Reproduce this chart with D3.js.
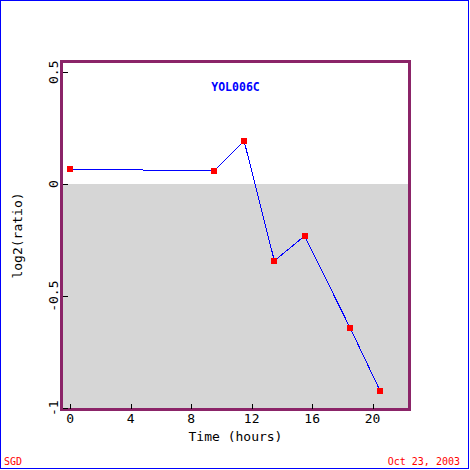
<!DOCTYPE html>
<html>
<head>
<meta charset="utf-8">
<script src="https://cdn.jsdelivr.net/npm/d3@7"></script>
<style>
    body { margin: 0; background: #fff; }
    text { font-family: "DejaVu Sans Mono", "Liberation Mono", monospace; -webkit-font-smoothing: none; }
</style>
</head>
<body>
<div id="chart"></div>
<script>
var geneName = "YOL006C";
var times = [0, 9.5, 11.5, 13.5, 15.5, 18.5, 20.5];
var values = [0.068, 0.059, 0.193, -0.342, -0.231, -0.64, -0.923];
var xTicks = [0, 4, 8, 12, 16, 20];
var yTicks = [0.5, 0, -0.5, -1];
var xLabel = "Time (hours)";
var yLabel = "log2(ratio)";
var leftNote = "SGD";
var rightNote = "Oct 23, 2003";

var width = 470,
    height = 470;
var box = { left: 61.5, top: 61.5, right: 409.5, bottom: 409.5 };

var svg = d3.select("#chart").append("svg")
    .attr("width", width)
    .attr("height", height)

// outer frame
svg.append("rect")
    .attr("x", 0.5).attr("y", 0.5)
    .attr("width", 468).attr("height", 468)
    .attr("fill", "none")
    .attr("stroke", "#0000ff")
    .attr("shape-rendering", "crispEdges")

var x = d3.scaleLinear().domain([-0.58, 22.44]).range([box.left, box.right]);
var y = d3.scaleLinear().domain([0.548, -1.006]).range([box.top, box.bottom]);

/* grey band under zero */
svg.append("rect")
    .attr("x", box.left)
    .attr("y", y(0))
    .attr("width", box.right - box.left)
    .attr("height", box.bottom - y(0))
    .attr("fill", "#d6d6d6")
    .attr("shape-rendering", "crispEdges")

var pts = times.map(function (t, i) { return { t: t, v: values[i] }; });

var line = d3.line()
    .x(function (d) { return x(d.t); })
    .y(function (d) { return y(d.v); });

svg.append("path")
    .datum(pts)
    .attr("d", line)
    .attr("fill", "none")
    .attr("stroke", "#0000ff")
    .attr("stroke-width", 1)
    .attr("shape-rendering", "crispEdges")

svg.selectAll("rect.pt")
    .data(pts)
    .enter()
    .append("rect")
    .attr("class", "pt")
    .attr("x", function (d) { return Math.round(x(d.t)) - 3; })
    .attr("y", function (d) { return Math.round(y(d.v)) - 3; })
    .attr("width", 6)
    .attr("height", 6)
    .attr("fill", "#ff0000")
    .attr("shape-rendering", "crispEdges")

// plot border
svg.append("rect")
    .attr("x", box.left).attr("y", box.top)
    .attr("width", box.right - box.left)
    .attr("height", box.bottom - box.top)
    .attr("fill", "none")
    .attr("stroke", "#8b2468")
    .attr("stroke-width", 3)
    .attr("shape-rendering", "crispEdges")

// x ticks, drawn inward
svg.selectAll("line.xt")
    .data(xTicks)
    .enter()
    .append("line")
    .attr("x1", function (d) { return Math.round(x(d)) + 0.5; })
    .attr("x2", function (d) { return Math.round(x(d)) + 0.5; })
    .attr("y1", box.bottom - 1)
    .attr("y2", box.bottom - 6)
    .attr("stroke", "#000")
    .attr("shape-rendering", "crispEdges")

svg.selectAll("text.xt")
    .data(xTicks)
    .enter()
    .append("text")
    .attr("x", function (d) { return x(d); })
    .attr("y", 423)
    .attr("text-anchor", "middle")
    .attr("font-size", 13)
    .text(function (d) { return d; })

svg.selectAll("line.yt")
    .data(yTicks)
    .enter()
    .append("line")
    .attr("x1", box.left + 1)
    .attr("x2", box.left + 6)
    .attr("y1", function (d) { return Math.round(y(d)) + 0.5; })
    .attr("y2", function (d) { return Math.round(y(d)) + 0.5; })
    .attr("stroke", "#000")
    .attr("shape-rendering", "crispEdges")

svg.selectAll("text.yt")
    .data(yTicks)
    .enter()
    .append("text")
    .attr("transform", function (d) { return "translate(58," + y(d) + ") rotate(-90)"; })
    .attr("text-anchor", "middle")
    .attr("font-size", 13)
    .text(function (d) { return d; })

svg.append("text")
    .attr("x", (box.left + box.right) / 2)
    .attr("y", 441)
    .attr("text-anchor", "middle")
    .attr("font-size", 13)
    .text(xLabel)

svg.append("text")
    .attr("transform", "translate(22," + ((box.top + box.bottom) / 2) + ") rotate(-90)")
    .attr("text-anchor", "middle")
    .attr("font-size", 13)
    .text(yLabel)

svg.append("text")
    .attr("x", (box.left + box.right) / 2)
    .attr("y", 91)
    .attr("text-anchor", "middle")
    .attr("font-size", 11.5)
    .attr("font-weight", "bold")
    .attr("fill", "#0000ff")
    .text(geneName)

svg.append("text")
    .attr("x", 4)
    .attr("y", 465)
    .attr("font-size", 10)
    .attr("fill", "#ff0000")
    .text(leftNote)

svg.append("text")
    .attr("x", 460)
    .attr("y", 465)
    .attr("text-anchor", "end")
    .attr("font-size", 10)
    .attr("fill", "#ff0000")
    .text(rightNote)
</script>
</body>
</html>
